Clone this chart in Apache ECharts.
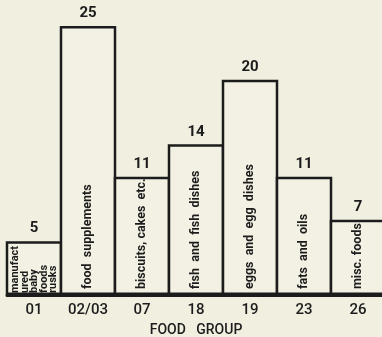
<!DOCTYPE html>
<html>
<head>
<meta charset="utf-8">
<script src="https://cdn.jsdelivr.net/npm/echarts@6/dist/echarts.min.js"></script>
<style>
  html, body { margin: 0; padding: 0; background: #f1efdf; }
  #main { width: 382px; height: 337px; }
</style>
</head>
<body>
<div id="main"></div>
<script>
  // food group codes along the bottom
  var codes = ['01', '02/03', '07', '18', '19', '23', '26'];
  // text written inside each bar
  var groupNames = [
    'manufact\nured\nbaby\nfoods\nrusks',
    'food  supplements',
    'biscuits, cakes  etc.',
    'fish  and  fish  dishes',
    'eggs  and  egg  dishes',
    'fats  and  oils',
    'misc. foods'
  ];
  var counts = [5, 25, 11, 14, 20, 11, 7];

  var chart = echarts.init(document.getElementById('main'));

  var inner = counts.map(function (v, i) {
    var item = { value: v };
    if (i === 0) {
      item.label = { fontSize: 11, lineHeight: 9.5, distance: 2 };
    }
    return item;
  });

  // borders are drawn inset, so widen the bars by the border to make neighbours share a line
  var bw = 378 / 7 + 2.5;
  var font = 'Roboto';

  chart.setOption({
    backgroundColor: '#f1efdf',
    animation: false,
    grid: { left: 7, top: 26, width: 378, bottom: 42, outerBoundsMode: 'none' },
    xAxis: {
      type: 'category',
      data: codes,
      axisTick: { show: false },
      axisLine: { lineStyle: { color: '#1c1c1c', width: 3 } },
      axisLabel: {
        interval: 0, hideOverlap: false,
        color: '#1c1c1c', fontSize: 15, fontFamily: font, fontWeight: 500, margin: 8
      },
      name: 'FOOD   GROUP',
      nameLocation: 'middle',
      nameGap: 28,
      nameTextStyle: { color: '#1c1c1c', fontSize: 14, fontFamily: font, fontWeight: 500 }
    },
    yAxis: { type: 'value', min: 0, max: 25, show: false },
    series: [
      {
        type: 'bar',
        data: counts,
        barWidth: bw,
        itemStyle: { color: '#f3f1e3', borderColor: '#1c1c1c', borderWidth: 2.5 },
        label: {
          show: true, position: 'top', distance: 5,
          color: '#1c1c1c', fontSize: 15, fontWeight: 'bold', fontFamily: font
        }
      },
      {
        type: 'bar',
        data: inner,
        barWidth: bw,
        barGap: '-100%',
        silent: true,
        itemStyle: { color: 'rgba(0,0,0,0)' },
        label: {
          show: true, position: 'insideBottom', rotate: 90, distance: 6,
          align: 'left', verticalAlign: 'middle',
          color: '#1c1c1c', fontSize: 12.5, fontWeight: 'bold', fontFamily: font,
          formatter: function (p) { return groupNames[p.dataIndex]; }
        }
      }
    ]
  });
</script>
</body>
</html>
